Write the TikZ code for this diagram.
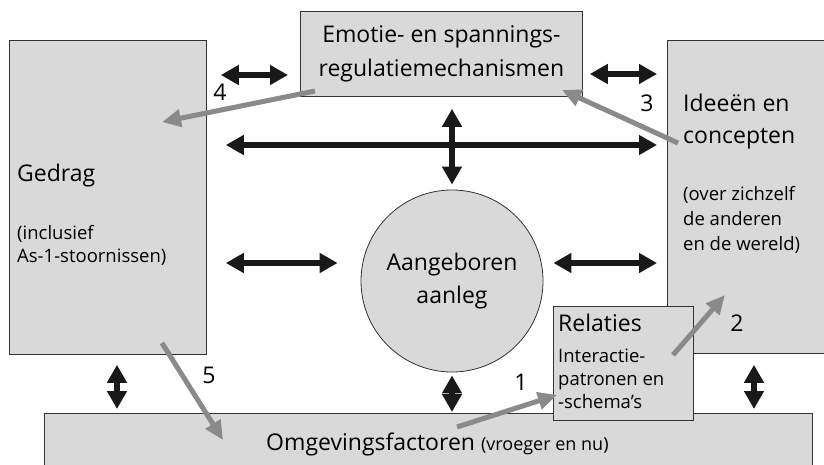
\documentclass[tikz,border=0pt]{standalone}
\usepackage{fontspec}
\setmainfont{Open Sans}
\usetikzlibrary{arrows.meta}
\definecolor{boxgray}{HTML}{D9D9D9}
\definecolor{linkgray}{HTML}{8A8A8A}

\begin{document}
\begin{tikzpicture}
[x=1pt,y=-1pt,%
  every node/.style={inner sep=0pt},%
  box/.style={draw=black!80,fill=boxgray,line width=0.8pt,anchor=north west},%
  both/.style={{Triangle[length=18pt,width=19pt]}-{Triangle[length=18pt,width=19pt]},line width=5.5pt,black!90},%
  link/.style={-{Triangle[length=19pt,width=17pt]},line width=5pt,linkgray},%
  big/.style={font=\fontsize{23}{33}\selectfont},%
  small/.style={font=\fontsize{18.5}{23}\selectfont}]
\useasboundingbox (0,0) rectangle (824,465);
\begin{scope}
\clip (0,0) rectangle (824,465);
% boxes
\node[box,minimum width=197pt,minimum height=314pt] (gedrag) at (9,40) {};
\node[box,minimum width=170pt,minimum height=313pt] (ideeen) at (667,40) {};
\node[box,minimum width=768pt,minimum height=70pt] (omgeving) at (44,413) {};
\node[box,minimum width=282pt,minimum height=85pt,big,align=center] (emotie) at (300,11)
  {Emotie- en spannings-\\[1pt]regulatiemechanismen};
\node[draw=black!80,fill=boxgray,line width=0.8pt,circle,minimum size=182pt,big,align=center]
  (aanleg) at (452,281) {Aangeboren\\aanleg};
\node[box,minimum width=140pt,minimum height=114pt] (relaties) at (553,306) {};
\end{scope}
% texts (base = last line)
\node[big,anchor=base west] (gedragtxt) at (17,182) {Gedrag};
\node[small,align=left,anchor=base west] (gedragsub) at (17,262) {(inclusief\\As-1-stoornissen)};
\node[big,align=left,anchor=base west] (ideeentxt) at (683,144) {Ideeën en\\[-1pt]concepten};
\node[small,align=left,anchor=base west] (ideeensub) at (683,250) {(over zichzelf\\[2pt]de anderen\\[2pt]en de wereld)};
\node[big,anchor=base west] (omgevingtxt) at (266,450) {Omgevingsfactoren {\fontsize{18}{20}\selectfont(vroeger en nu)}};
\node[big,anchor=base west] (relatiestxt) at (558,331) {Relaties};
\node[small,align=left,anchor=base west] (relatiessub) at (558,408) {Interactie-\\patronen en\\-schema’s};
% black links
\draw[both,shorten <=14pt,shorten >=12pt] (gedrag.east |- 0,75) -- (emotie.west |- 0,75);
\draw[both,shorten <=7pt,shorten >=10pt] (emotie.east |- 0,74) -- (ideeen.west |- 0,74);
\draw[both,shorten <=19pt,shorten >=10pt] (gedrag.east |- 0,145) -- (ideeen.west |- 0,145);
\draw[both,shorten <=5pt,shorten >=12pt] (aanleg.north) -- (emotie.south -| aanleg.north);
\draw[both,shorten <=19pt,shorten >=23pt] (gedrag.east |- 0,263) -- (aanleg.west |- 0,263);
\draw[both,shorten <=10pt,shorten >=10pt] (aanleg.east |- 0,263) -- (ideeen.west |- 0,263);
\draw[both,shorten <=10pt,shorten >=4pt] (gedrag.south -| 117,0) -- (omgeving.north -| 117,0);
\draw[both,shorten <=3pt,shorten >=1pt] (aanleg.south) -- (omgeving.north -| aanleg.south);
\draw[both,shorten <=11pt,shorten >=4pt] (ideeen.south -| 754,0) -- (omgeving.north -| 754,0);
% grey links
\coordinate (from4) at (315,91);   \coordinate (to4) at (162,122);
\coordinate (from3) at (678,143);  \coordinate (to3) at (562,90);
\coordinate (from2) at (673,355);  \coordinate (to2) at (725,295);
\coordinate (from1) at (457,427);  \coordinate (to1) at (557,395);
\coordinate (from5) at (162,343);  \coordinate (to5) at (223,440);
\draw[link] (from4) -- (to4);
\draw[link] (from3) -- (to3);
\draw[link] (from2) -- (to2);
\draw[link] (from1) -- (to1);
\draw[link] (from5) -- (to5);
\node[big] (n4) at (220,92) {4};
\node[big] (n3) at (647,103) {3};
\node[big] (n2) at (737,323) {2};
\node[big] (n1) at (521,382) {1};
\node[big] (n5) at (209,375) {5};
\end{tikzpicture}
\end{document}
